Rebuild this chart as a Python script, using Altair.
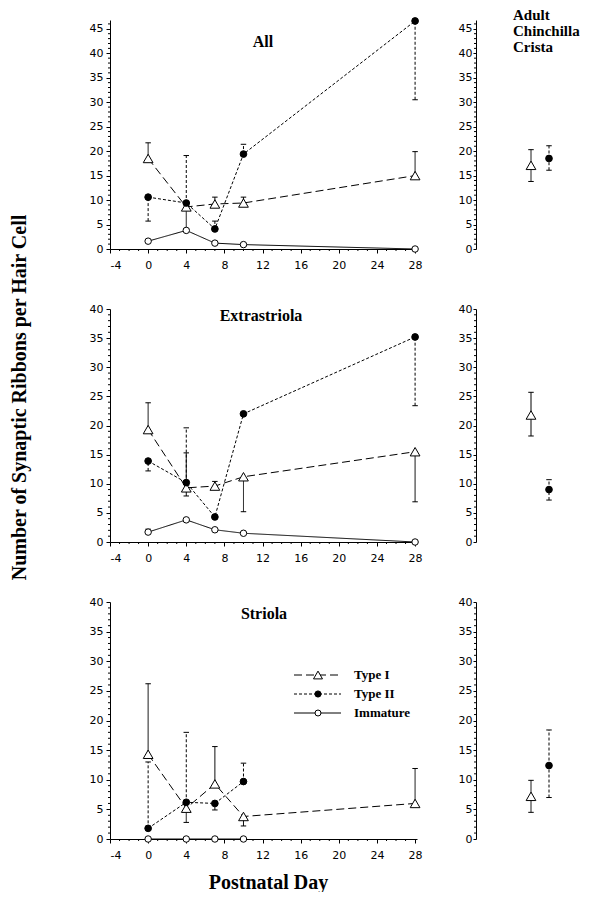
import altair as alt
import pandas as pd

# ---------------- data ----------------
DAYS = [0, 4, 7, 10, 28]
DAYS_SHORT = [0, 4, 7, 10]
SERIES = ["Type I", "Type II", "Immature"]
ADULT_SERIES = ["Type I", "Type II"]
HEADER_LINES = ["Adult", "Chinchilla", "Crista"]
PANEL_TITLES = ["All", "Extrastriola", "Striola"]

# All
ALL_T1 = [18.5, 8.6, 9.2, 9.4, 15.0]
ALL_T1_LO = [18.5, 4.0, 9.2, 9.4, 15.0]
ALL_T1_HI = [21.7, 8.6, 10.6, 10.6, 19.9]
ALL_T2 = [10.6, 9.4, 4.1, 19.4, 46.6]
ALL_T2_LO = [5.7, 9.4, 4.1, 19.4, 30.5]
ALL_T2_HI = [10.6, 19.1, 5.7, 21.4, 46.6]
ALL_IM = [1.6, 3.8, 1.2, 0.9, 0.0]
ALL_ADULT = [17.1, 18.5]
ALL_ADULT_LO = [13.8, 16.1]
ALL_ADULT_HI = [20.3, 21.1]

# Extrastriola
EXT_T1 = [19.3, 9.3, 9.6, 11.2, 15.5]
EXT_T1_LO = [19.3, 7.9, 9.6, 5.2, 6.9]
EXT_T1_HI = [23.9, 15.3, 10.4, 11.2, 15.5]
EXT_T2 = [13.9, 10.2, 4.3, 22.0, 35.2]
EXT_T2_LO = [12.2, 10.2, 4.3, 22.0, 23.4]
EXT_T2_HI = [13.9, 19.6, 4.3, 22.0, 35.2]
EXT_IM = [1.7, 3.8, 2.1, 1.5, 0.0]
EXT_IM_LO = [1.7, 3.8, 2.1, 1.5, 0.0]
EXT_IM_HI = [2.2, 3.8, 2.1, 1.5, 0.0]
EXT_ADULT = [21.8, 9.0]
EXT_ADULT_LO = [18.2, 7.2]
EXT_ADULT_HI = [25.7, 10.7]

# Striola
STR_T1 = [14.3, 5.2, 9.3, 3.8, 6.0]
STR_T1_LO = [14.3, 2.8, 9.3, 2.2, 6.0]
STR_T1_HI = [26.2, 5.2, 15.6, 3.8, 11.9]
STR_T2 = [1.8, 6.2, 6.0, 9.7]
STR_T2_LO = [1.8, 6.2, 4.9, 9.7]
STR_T2_HI = [13.0, 18.0, 6.0, 12.8]
STR_IM = [0.0, 0.0, 0.0, 0.0]
STR_ADULT = [7.2, 12.4]
STR_ADULT_LO = [4.5, 7.0]
STR_ADULT_HI = [9.9, 18.4]

# ---------------- styles ----------------
SANS = "DejaVu Sans"
SERIF = "Liberation Serif"
DASH = {"Type I": [8, 4], "Type II": [3, 2], "Immature": [1, 0]}
ERR_DASH = {"Type I": [1, 0], "Type II": [3, 2], "Immature": [1, 0]}
CAP = "M-1,0L1,0"
HYPHEN_LABEL = "replace(datum.label, '\u2212', '-')"


def pts_df(xs, vals):
    return pd.DataFrame({"x": xs, "val": vals})


def err_df(xs, vals, lo, hi):
    rows = []
    for x, v, l, h in zip(xs, vals, lo, hi):
        if h > v:
            rows.append({"x": x, "y1": v, "y2": h, "cap": h})
        if l < v:
            rows.append({"x": x, "y1": l, "y2": v, "cap": l})
    return pd.DataFrame(rows, columns=["x", "y1", "y2", "cap"])


def marker(series, size_scale=1.0):
    if series == "Type I":
        return dict(shape="triangle-up", filled=True, fill="white", stroke="black",
                    strokeWidth=1, size=95 * size_scale, opacity=1)
    if series == "Type II":
        return dict(shape="circle", filled=True, fill="black", stroke="black",
                    strokeWidth=1, size=45 * size_scale, opacity=1)
    return dict(shape="circle", filled=True, fill="white", stroke="black",
                strokeWidth=1, size=42 * size_scale, opacity=1)


def left_panel(height, ymax, series_data, title, title_xy, xtitle=None,
               ytitle=None, legend_rows=None):
    W = 307
    xs = alt.Scale(domain=[-4, 28.2], nice=False, zero=False)
    ys = alt.Scale(domain=[0, ymax], nice=False, zero=False)
    xaxis_kw = dict(values=list(range(-4, 29, 4)), tickSize=4, labelPadding=6,
                    labelExpr=HYPHEN_LABEL, title=None)
    if xtitle:
        xaxis_kw.update(title=xtitle, titlePadding=12, titleX=158)
    yaxis_kw = dict(values=list(range(0, int(ymax) + 1, 5)), tickSize=4,
                    labelPadding=3, title=None)
    if ytitle:
        yaxis_kw.update(title=ytitle, titleX=-91, titleY=88, titleAngle=270,
                        titleAlign="center", titleBaseline="middle")
    XA = alt.Axis(**xaxis_kw)
    YA = alt.Axis(**yaxis_kw)

    def X(f):
        return alt.X(f, scale=xs, axis=XA)

    def Y(f):
        return alt.Y(f, scale=ys, axis=YA)

    layers = []
    # minor ticks
    ymin = pd.DataFrame({"v": [v for v in range(0, int(ymax) + 1) if v % 5]})
    layers.append(alt.Chart(ymin).mark_rule(color="black", strokeWidth=1).encode(
        y=Y("v:Q"), x=alt.value(0), x2=alt.value(-2)))
    xmin = pd.DataFrame({"v": [v for v in range(-4, 29) if v % 4]})
    layers.append(alt.Chart(xmin).mark_rule(color="black", strokeWidth=1).encode(
        x=X("v:Q"), y=alt.value(height), y2=alt.value(height + 2)))
    # error bars
    for name, xs_, vals, lo, hi in series_data:
        if lo is None:
            continue
        e = err_df(xs_, vals, lo, hi)
        if len(e) == 0:
            continue
        layers.append(alt.Chart(e).mark_rule(color="black", strokeWidth=1,
                                             strokeDash=ERR_DASH[name]).encode(
            x=X("x:Q"), y=Y("y1:Q"), y2="y2:Q"))
        layers.append(alt.Chart(e).mark_point(shape=CAP, size=30, color="black",
                                              strokeWidth=1, opacity=1).encode(
            x=X("x:Q"), y=Y("cap:Q")))
    # lines
    for name, xs_, vals, lo, hi in series_data:
        d = pts_df(xs_, vals)
        layers.append(alt.Chart(d).mark_line(color="black", strokeWidth=1,
                                             strokeDash=DASH[name]).encode(
            x=X("x:Q"), y=Y("val:Q")))
    # points
    for name, xs_, vals, lo, hi in series_data:
        d = pts_df(xs_, vals)
        layers.append(alt.Chart(d).mark_point(**marker(name)).encode(
            x=X("x:Q"), y=Y("val:Q")))
    # panel title
    layers.append(alt.Chart(pd.DataFrame({"t": [title]})).mark_text(
        font=SERIF, fontWeight="bold", fontSize=16, color="black",
        align="center", baseline="middle").encode(
        text="t:N", x=alt.value(title_xy[0]), y=alt.value(title_xy[1])))
    # legend
    if legend_rows:
        for i, name in enumerate(SERIES):
            ly = legend_rows[i]
            ld = pd.DataFrame({"label": [name]})
            layers.append(alt.Chart(ld).mark_rule(color="black", strokeWidth=1,
                                                  strokeDash=DASH[name]).encode(
                x=alt.value(184), x2=alt.value(231), y=alt.value(ly)))
            layers.append(alt.Chart(ld).mark_point(**marker(name, 0.85)).encode(
                x=alt.value(208), y=alt.value(ly)))
            layers.append(alt.Chart(ld).mark_text(
                font=SERIF, fontWeight="bold", fontSize=13, color="black",
                align="left", baseline="middle").encode(
                text="label:N", x=alt.value(244), y=alt.value(ly)))
    return alt.layer(*layers).properties(width=W, height=height)


def right_panel(height, ymax, vals, lo, hi, header=False):
    xsc = alt.Scale(type="point", domain=ADULT_SERIES, range=[55, 73], padding=0)
    ys = alt.Scale(domain=[0, ymax], nice=False, zero=False)
    YA = alt.Axis(values=list(range(0, int(ymax) + 1, 5)), tickSize=3,
                  labelPadding=1, title=None)

    def X(f):
        return alt.X(f, scale=xsc, axis=None)

    def Y(f):
        return alt.Y(f, scale=ys, axis=YA)

    layers = []
    ymin = pd.DataFrame({"v": [v for v in range(0, int(ymax) + 1) if v % 5]})
    layers.append(alt.Chart(ymin).mark_rule(color="black", strokeWidth=1).encode(
        y=Y("v:Q"), x=alt.value(0), x2=alt.value(-2)))
    for i, name in enumerate(ADULT_SERIES):
        e = err_df([name], [vals[i]], [lo[i]], [hi[i]])
        layers.append(alt.Chart(e).mark_rule(color="black", strokeWidth=1,
                                             strokeDash=ERR_DASH[name]).encode(
            x=X("x:N"), y=Y("y1:Q"), y2="y2:Q"))
        layers.append(alt.Chart(e).mark_point(shape=CAP, size=30, color="black",
                                              strokeWidth=1, opacity=1).encode(
            x=X("x:N"), y=Y("cap:Q")))
    for i, name in enumerate(ADULT_SERIES):
        d = pd.DataFrame({"x": [name], "val": [vals[i]]})
        layers.append(alt.Chart(d).mark_point(**marker(name)).encode(
            x=X("x:N"), y=Y("val:Q")))
    if header:
        layers.append(alt.Chart(pd.DataFrame({"t": ["x"]})).mark_text(
            font=SERIF, fontWeight="bold", fontSize=15, color="black",
            align="left", baseline="top", lineHeight=16).encode(
            text=alt.value(HEADER_LINES), x=alt.value(37), y=alt.value(-12)))
    return alt.layer(*layers).properties(width=100, height=height)


top_left = left_panel(229, 46.8, [
    ("Type I", DAYS, ALL_T1, ALL_T1_LO, ALL_T1_HI),
    ("Type II", DAYS, ALL_T2, ALL_T2_LO, ALL_T2_HI),
    ("Immature", DAYS, ALL_IM, None, None),
], PANEL_TITLES[0], (153, 22))
top_right = right_panel(229, 46.8, ALL_ADULT, ALL_ADULT_LO, ALL_ADULT_HI, header=True)

mid_left = left_panel(233, 40, [
    ("Type I", DAYS, EXT_T1, EXT_T1_LO, EXT_T1_HI),
    ("Type II", DAYS, EXT_T2, EXT_T2_LO, EXT_T2_HI),
    ("Immature", DAYS, EXT_IM, EXT_IM_LO, EXT_IM_HI),
], PANEL_TITLES[1], (151, 7), ytitle="Number of Synaptic Ribbons per Hair Cell")
mid_right = right_panel(233, 40, EXT_ADULT, EXT_ADULT_LO, EXT_ADULT_HI)

bot_left = left_panel(237, 40, [
    ("Type I", DAYS, STR_T1, STR_T1_LO, STR_T1_HI),
    ("Type II", DAYS_SHORT, STR_T2, STR_T2_LO, STR_T2_HI),
    ("Immature", DAYS_SHORT, STR_IM, None, None),
], PANEL_TITLES[2], (154, 12), xtitle="Postnatal Day", legend_rows=[73, 92, 111])
bot_right = right_panel(237, 40, STR_ADULT, STR_ADULT_LO, STR_ADULT_HI)

chart = alt.concat(
    top_left, top_right, mid_left, mid_right, bot_left, bot_right,
    columns=2, spacing={"row": 60, "column": 59}, align="each", bounds="flush",
).properties(
    padding={"left": 0, "top": 0, "right": 0, "bottom": 0}
).configure_view(stroke=None).configure_axis(
    domainColor="black", tickColor="black", labelColor="black",
    labelFont=SANS, labelFontSize=11, grid=False, domainWidth=1, tickWidth=1,
    titleFont=SERIF, titleFontWeight="bold", titleFontSize=20, titleColor="black",
)

chart.save("out.html", embed_options={"renderer": "svg", "actions": False})
